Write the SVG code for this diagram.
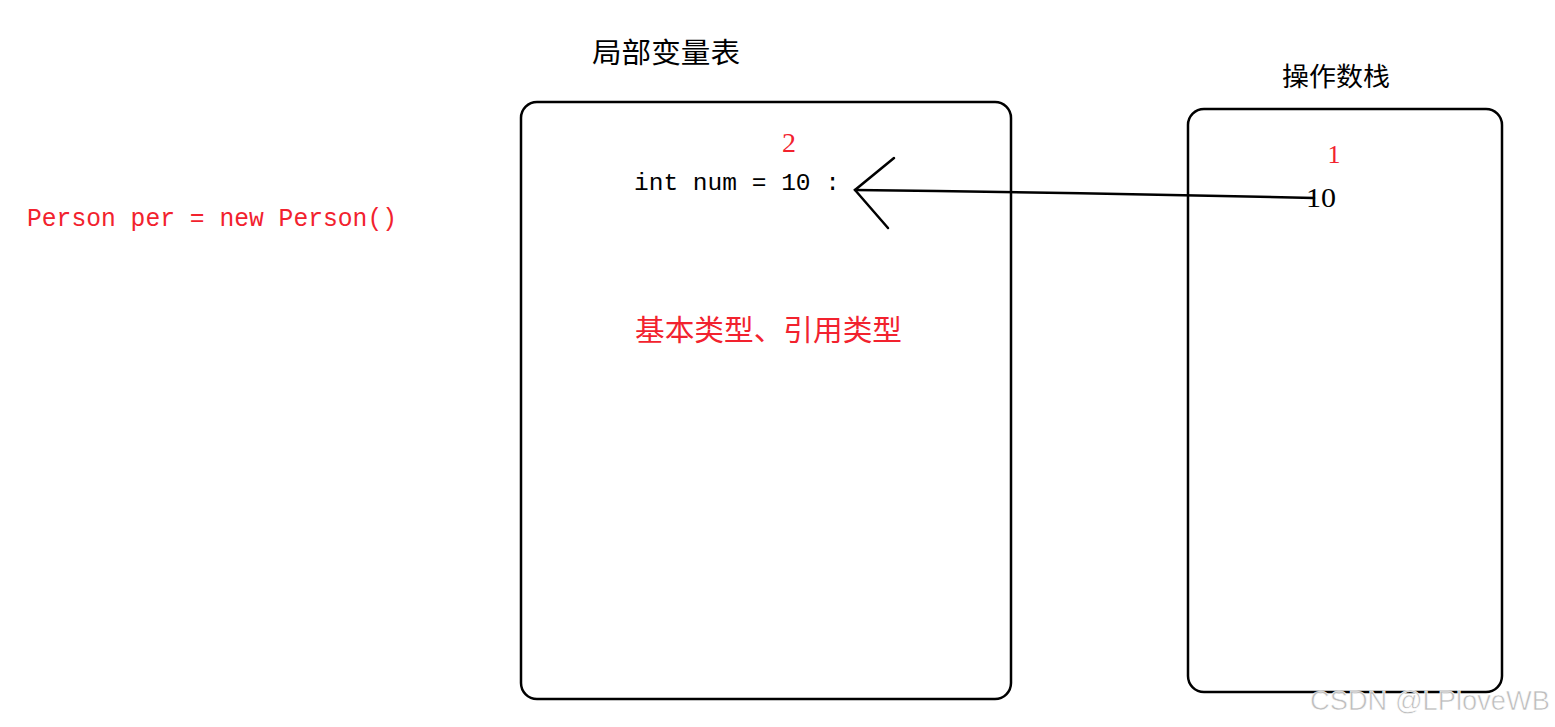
<svg xmlns="http://www.w3.org/2000/svg" width="1555" height="727" viewBox="0 0 1555 727">
<style>
.box{fill:none;stroke:#000;stroke-width:2.5}
.cjk{font-family:"Noto Sans CJK SC","Noto Sans",sans-serif}
.mono{font-family:"Liberation Mono",monospace}
.serif{font-family:"Liberation Serif",serif}
.red{fill:#f2222e}
.blk{fill:#000}
.conn{fill:none;stroke:#000;stroke-width:2.5;stroke-linecap:round}
</style>
<rect width="1555" height="727" fill="#fff"/>
<g id="code">
<text class="mono red" x="27" y="226" font-size="25.5" textLength="370" lengthAdjust="spacingAndGlyphs">Person per = new Person()</text>
</g>
<g id="local-vars">
<text class="cjk blk" x="592" y="63" font-size="28" textLength="148" lengthAdjust="spacingAndGlyphs">局部变量表</text>
<rect class="box" x="521" y="102" width="490" height="597" rx="16"/>
<text class="serif red" x="789" y="152" font-size="28" text-anchor="middle">2</text>
<text class="mono blk" x="634" y="190" font-size="24" textLength="206" lengthAdjust="spacingAndGlyphs">int num = 10  :</text>
<text class="cjk red" x="635" y="341" font-size="29" textLength="267" lengthAdjust="spacingAndGlyphs">基本类型、引用类型</text>
</g>
<g id="operand-stack">
<text class="cjk blk" x="1282" y="86" font-size="26" textLength="108" lengthAdjust="spacingAndGlyphs">操作数栈</text>
<rect class="box" x="1188" y="109" width="314" height="583" rx="16"/>
<text class="serif red" x="1334" y="163" font-size="26" text-anchor="middle">1</text>
<text class="serif blk" x="1306" y="207" font-size="28" textLength="30" lengthAdjust="spacingAndGlyphs">10</text>
</g>
<g id="connectors">
<path class="conn" d="M1314,198 Q1090,193 855,190"/>
<path class="conn" d="M894,158 L855,190 L888,228"/>
</g>
<text x="1310" y="710" textLength="240" lengthAdjust="spacingAndGlyphs" font-family="Liberation Sans,sans-serif" font-size="27" fill="#bdbdbd" stroke="#fff" stroke-width="0.6">CSDN @LPloveWB</text>
</svg>
